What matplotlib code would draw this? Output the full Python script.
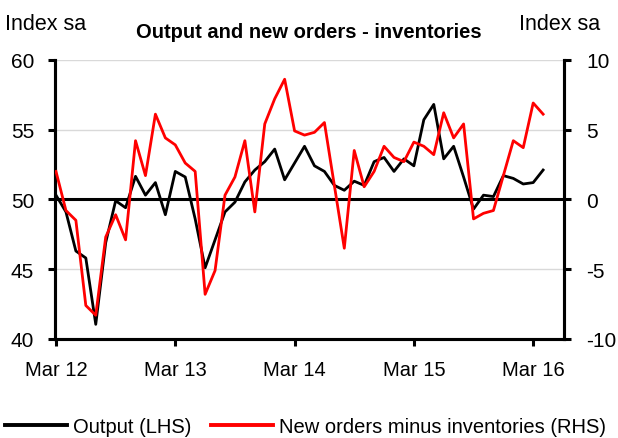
import matplotlib
matplotlib.use("Agg")
import matplotlib.pyplot as plt
import numpy as np
from matplotlib.lines import Line2D

plt.rcParams['font.family'] = ['Liberation Sans', 'DejaVu Sans']

# Monthly data, Mar 2012 .. Apr 2016
months = ["Mar 12", "Apr 12", "May 12", "Jun 12", "Jul 12", "Aug 12", "Sep 12", "Oct 12", "Nov 12", "Dec 12",
          "Jan 13", "Feb 13", "Mar 13", "Apr 13", "May 13", "Jun 13", "Jul 13", "Aug 13", "Sep 13", "Oct 13",
          "Nov 13", "Dec 13", "Jan 14", "Feb 14", "Mar 14", "Apr 14", "May 14", "Jun 14", "Jul 14", "Aug 14",
          "Sep 14", "Oct 14", "Nov 14", "Dec 14", "Jan 15", "Feb 15", "Mar 15", "Apr 15", "May 15", "Jun 15",
          "Jul 15", "Aug 15", "Sep 15", "Oct 15", "Nov 15", "Dec 15", "Jan 16", "Feb 16", "Mar 16", "Apr 16"]

output_lhs = [50.3, 49.1, 46.3, 45.8, 41.05, 46.9, 49.9, 49.4, 51.65, 50.3,
              51.2, 48.9, 52.0, 51.6, 48.6, 45.1, 47.1, 49.1, 49.8, 51.25,
              52.1, 52.7, 53.6, 51.4, 52.6, 53.8, 52.4, 52.0, 51.0, 50.65,
              51.3, 51.0, 52.7, 53.0, 52.0, 52.9, 52.4, 55.7, 56.8, 52.9,
              53.8, 51.6, 49.3, 50.3, 50.2, 51.7, 51.5, 51.1, 51.2, 52.1]

new_orders_minus_inv_rhs = [2.0, -0.8, -1.5, -7.6, -8.3, -2.7, -1.1, -2.9, 4.2, 1.7,
                            6.1, 4.4, 3.9, 2.6, 2.0, -6.8, -5.1, 0.3, 1.6, 4.2,
                            -0.9, 5.4, 7.2, 8.6, 4.9, 4.6, 4.8, 5.5, 1.0, -3.5,
                            3.5, 0.9, 2.0, 3.8, 3.0, 2.7, 4.1, 3.8, 3.2, 6.2,
                            4.4, 5.4, -1.4, -1.0, -0.8, 1.7, 4.2, 3.7, 6.9, 6.1]

xtick_labels = ["Mar 12", "Mar 13", "Mar 14", "Mar 15", "Mar 16"]
left_ticks = [40, 45, 50, 55, 60]
right_ticks = [-10, -5, 0, 5, 10]

fig = plt.figure(figsize=(6.18, 4.39), dpi=100)
ax = fig.add_axes([55/618, 1-340/439, (564-55)/618, (340-60.7)/439])
ax2 = ax.twinx()

x = np.arange(len(months))

# grid lines
for v in left_ticks:
    if v in (40, 50):
        continue
    ax.axhline(v, color='#d9d9d9', lw=1.0, zorder=0)
ax.axhline(50, color='black', lw=2.2, zorder=1)

ax.plot(x, output_lhs, color='black', lw=2.0, zorder=3)
ax2.plot(x, new_orders_minus_inv_rhs, color='#ff0000', lw=2.0, zorder=4)
ax2.set_zorder(ax.get_zorder() + 1)
ax2.patch.set_visible(False)

ax.set_xlim(-0.1, 51.1)
ax.set_ylim(40, 60)
ax2.set_ylim(-10, 10)

tick_pos = [months.index(m) for m in xtick_labels]
ax.set_xticks(tick_pos)
ax.set_xticklabels(xtick_labels)
ax.set_yticks(left_ticks)
ax.set_yticklabels([str(v) for v in left_ticks])
ax2.set_yticks(right_ticks)
ax2.set_yticklabels([str(v) for v in right_ticks])

for a in (ax, ax2):
    a.spines['top'].set_visible(False)
    for s in ('left', 'right', 'bottom'):
        a.spines[s].set_linewidth(2.2)
        a.spines[s].set_color('black')

ax.tick_params(axis='x', direction='out', length=5, width=2.2, labelsize=14.5, pad=10)
ax.tick_params(axis='y', direction='out', length=5, width=2.2, labelsize=15, pad=10)
ax2.tick_params(axis='y', direction='out', length=5, width=2.2, labelsize=15, pad=11)
for lbl in ax2.get_yticklabels():
    lbl.set_horizontalalignment('left')

fig.text(5/618, 1-24/439, "Index sa", fontsize=15.5, ha='left', va='center')
fig.text(600/618, 1-24/439, "Index sa", fontsize=15.5, ha='right', va='center')
fig.text(309/618, 1-33/439, "Output and new orders - inventories", fontsize=14.5,
         fontweight='bold', ha='center', va='center')

handles = [Line2D([0], [0], color='black', lw=2.8),
           Line2D([0], [0], color='#ff0000', lw=2.8)]
fig.legend(handles, ["Output (LHS)", "New orders minus inventories (RHS)"],
           loc='center left', bbox_to_anchor=(5/618, 1-428/439), ncol=2,
           frameon=False, fontsize=14.5, handlelength=3.08, handletextpad=0.3,
           columnspacing=0.95, borderpad=0, borderaxespad=0)

fig.savefig("out.png", dpi=100)
